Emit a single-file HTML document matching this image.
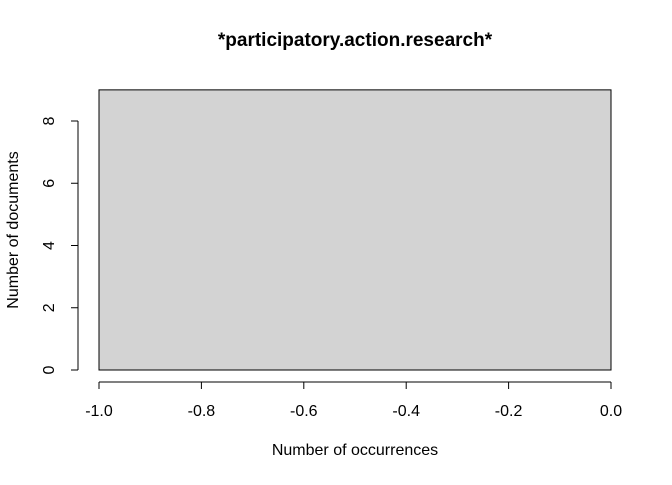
<!DOCTYPE html>
<html><head><meta charset="utf-8"><style>
body{margin:0;background:#fff;}
text{font-family:"Liberation Sans",sans-serif;fill:#000;}
</style></head><body>
<svg id="chart" width="672" height="480" xmlns="http://www.w3.org/2000/svg">
<text x="355" y="46" text-anchor="middle" font-size="19" font-weight="bold">*participatory.action.research*</text>
<text x="355" y="455" text-anchor="middle" font-size="16">Number of occurrences</text>
<text transform="translate(18,230) rotate(-90)" text-anchor="middle" font-size="16">Number of documents</text>
<g id="bars"></g><g id="xaxis"></g><g id="yaxis"></g>
</svg>
<script>
const binStarts=[-1.0];
const binEnds=[0.0];
const counts=[9];
const xTicks=[-1.0,-0.8,-0.6,-0.4,-0.2,0.0];
const xTickLabels=["-1.0","-0.8","-0.6","-0.4","-0.2","0.0"];
const yTicks=[0,2,4,6,8];
const yTickLabels=["0","2","4","6","8"];
const NS="http://www.w3.org/2000/svg";
function sx(v){return 99+(v+1)*512;}
function sy(v){return 370-v*31.125;}
function mk(t,a,p){const e=document.createElementNS(NS,t);for(const k in a)e.setAttribute(k,a[k]);p.appendChild(e);return e;}
const bars=document.getElementById('bars');
counts.forEach((c,i)=>{
 const r=mk('rect',{x:sx(binStarts[i]),y:sy(c),width:sx(binEnds[i])-sx(binStarts[i]),height:sy(0)-sy(c),fill:'#d3d3d3',stroke:'#000','stroke-width':1},bars);
 
 
});
const xa=document.getElementById('xaxis');


mk('line',{x1:sx(xTicks[0]),x2:sx(xTicks[xTicks.length-1]),y1:382,y2:382,stroke:'#000'},xa);
xTicks.forEach((t,i)=>{
 mk('line',{x1:sx(t),x2:sx(t),y1:382,y2:389,stroke:'#000'},xa);
 const tx=mk('text',{x:sx(t),y:416,'text-anchor':'middle','font-size':16},xa);
 tx.textContent=xTickLabels[i];
 
 
});
const ya=document.getElementById('yaxis');


mk('line',{x1:78,x2:78,y1:sy(yTicks[0]),y2:sy(yTicks[yTicks.length-1]),stroke:'#000'},ya);
yTicks.forEach((t,i)=>{
 mk('line',{x1:71,x2:78,y1:sy(t),y2:sy(t),stroke:'#000'},ya);
 const tx=mk('text',{transform:`translate(54,${sy(t)}) rotate(-90)`,'text-anchor':'middle','font-size':16},ya);
 tx.textContent=yTickLabels[i];
 
 
});
</script>
</body></html>
